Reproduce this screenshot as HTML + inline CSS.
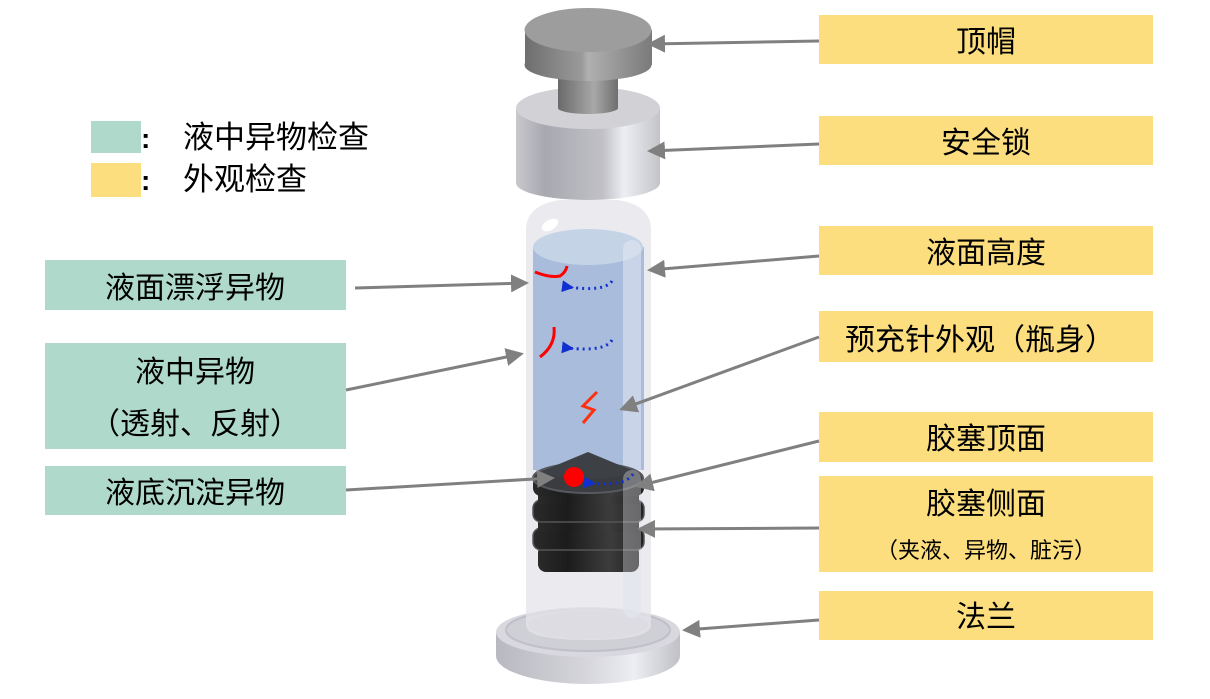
<!DOCTYPE html>
<html><head><meta charset="utf-8"><style>
html,body{margin:0;padding:0;background:#fff;}
svg{display:block;}
text{font-family:"Liberation Sans","Noto Sans CJK SC",sans-serif;fill:#000;}
</style></head><body>
<svg width="1210" height="699" viewBox="0 0 1210 699" xmlns="http://www.w3.org/2000/svg">
<defs>
<linearGradient id="gCap" x1="0" x2="1"><stop offset="0" stop-color="#6e6e6e"/><stop offset="0.45" stop-color="#9a9a9a"/><stop offset="0.5" stop-color="#b0b0b0"/><stop offset="1" stop-color="#7a7a7a"/></linearGradient>
<linearGradient id="gNeck" x1="0" x2="1"><stop offset="0" stop-color="#6a6a6a"/><stop offset="0.6" stop-color="#a8a8a8"/><stop offset="1" stop-color="#6e6e6e"/></linearGradient>
<linearGradient id="gLock" x1="0" x2="1"><stop offset="0" stop-color="#c8c8cc"/><stop offset="0.2" stop-color="#a8a8b0"/><stop offset="0.6" stop-color="#c0c0c6"/><stop offset="0.75" stop-color="#eceef4"/><stop offset="1" stop-color="#c4c4c8"/></linearGradient>
<linearGradient id="gStop" x1="0" x2="1"><stop offset="0" stop-color="#2a2a2a"/><stop offset="0.3" stop-color="#1c1c1c"/><stop offset="0.7" stop-color="#3c3c3c"/><stop offset="1" stop-color="#222"/></linearGradient>
<linearGradient id="gFl" x1="0" x2="1"><stop offset="0" stop-color="#b8b8c0"/><stop offset="0.5" stop-color="#d6d6dc"/><stop offset="0.75" stop-color="#eceef4"/><stop offset="1" stop-color="#c0c0c6"/></linearGradient>
<marker id="ah" markerWidth="6" markerHeight="6" refX="5" refY="3" orient="auto" markerUnits="strokeWidth"><path d="M0,0 L6,3 L0,6 z" fill="#808080"/></marker>
<marker id="bh" markerWidth="4" markerHeight="4" refX="2" refY="2" orient="auto" markerUnits="strokeWidth"><path d="M4,0 L0,2 L4,4 z" fill="#1030d0"/></marker>
</defs>

<!-- legend -->
<rect x="91" y="121" width="50" height="32" fill="#AFDACB"/>
<rect x="91" y="163" width="50" height="34" fill="#FCDE7E"/>
<text x="141" y="148" font-size="28" font-weight="bold">:</text>
<text x="141" y="190" font-size="28" font-weight="bold">:</text>
<text x="183" y="148" font-size="31">液中异物检查</text>
<text x="183" y="190" font-size="31">外观检查</text>

<!-- green boxes -->
<rect x="45" y="260" width="301" height="50" fill="#AFDACB"/>
<text x="195" y="298" font-size="30" text-anchor="middle">液面漂浮异物</text>
<rect x="45" y="343" width="301" height="106" fill="#AFDACB"/>
<text x="195" y="382" font-size="30" text-anchor="middle">液中异物</text>
<text x="195" y="434" font-size="30" text-anchor="middle">（透射、反射）</text>
<rect x="45" y="466" width="301" height="49" fill="#AFDACB"/>
<text x="195" y="503" font-size="30" text-anchor="middle">液底沉淀异物</text>

<!-- yellow boxes -->
<g fill="#FCDE7E">
<rect x="819" y="15" width="334" height="49"/>
<rect x="819" y="116" width="334" height="49"/>
<rect x="819" y="226" width="334" height="49"/>
<rect x="819" y="311" width="334" height="51"/>
<rect x="819" y="412" width="334" height="50"/>
<rect x="819" y="476" width="334" height="96"/>
<rect x="819" y="591" width="334" height="49"/>
</g>
<g font-size="30" text-anchor="middle">
<text x="986" y="52">顶帽</text>
<text x="986" y="153">安全锁</text>
<text x="986" y="263">液面高度</text>
<text x="980" y="350">预充针外观（瓶身）</text>
<text x="986" y="449">胶塞顶面</text>
<text x="986" y="514">胶塞侧面</text>
<text x="986" y="627">法兰</text>
</g>
<text x="986" y="558" font-size="22" text-anchor="middle">（夹液、异物、脏污）</text>

<!-- flange -->
<ellipse cx="588" cy="656" rx="92" ry="28" fill="url(#gFl)"/>
<rect x="496" y="632" width="184" height="24" fill="url(#gFl)"/>
<ellipse cx="588" cy="632" rx="92" ry="25" fill="#d8d8de"/>
<ellipse cx="588" cy="630" rx="82" ry="21" fill="#cfcfd6" stroke="#c0c0c8" stroke-width="2"/>
<ellipse cx="588" cy="625" rx="60" ry="14" fill="#c6c4d0"/>

<!-- barrel -->
<path d="M526,230 Q526,205 560,200 L618,200 Q651,205 651,230 L651,625 Q651,640 588,640 Q526,640 526,625 Z" fill="#e4e4ea" fill-opacity="0.75"/>
<ellipse cx="550" cy="225" rx="9" ry="5" fill="#fff" transform="rotate(-30 550 225)"/>
<!-- liquid -->
<path d="M533,247 L533,470 L644,470 L644,247 Z" fill="#a9bcdb"/>
<ellipse cx="588" cy="247" rx="55" ry="18" fill="#c4d4e6"/>
<rect x="623" y="240" width="18" height="378" rx="9" fill="#dfe4f0" fill-opacity="0.6"/>

<!-- stopper -->
<g>
<rect x="538" y="545" width="101" height="27" rx="8" fill="url(#gStop)"/>
<rect x="533" y="528" width="111" height="22" rx="8" fill="url(#gStop)" stroke="#555" stroke-width="1.5"/>
<rect x="538" y="518" width="101" height="14" fill="url(#gStop)"/>
<rect x="533" y="500" width="111" height="22" rx="8" fill="url(#gStop)" stroke="#555" stroke-width="1.5"/>
<rect x="538" y="490" width="101" height="14" fill="url(#gStop)"/>
<rect x="533" y="476" width="111" height="20" rx="8" fill="url(#gStop)"/>
<ellipse cx="588" cy="478" rx="55" ry="15" fill="#3a3c40" stroke="#55585e" stroke-width="2"/>
<path d="M540,472 L588,452 L636,472 Q588,486 540,472 Z" fill="#3d4045"/>
</g>
<rect x="623" y="470" width="18" height="148" rx="9" fill="#e8e8ee" fill-opacity="0.35"/>

<!-- debris -->
<path d="M535,272 Q550,278 560,276 Q566,272 567,266" stroke="#f00" stroke-width="3" fill="none"/>
<path d="M554,327 Q556,345 540,357" stroke="#f00" stroke-width="3" fill="none"/>
<path d="M597,392 L583,406 L594,410 L583,423" stroke="#ff3010" stroke-width="3" fill="none"/>
<circle cx="574" cy="477" r="10" fill="#f00"/>
<g stroke="#1030d0" stroke-width="3" stroke-dasharray="2,4" fill="none" marker-end="url(#bh)">
<path d="M612,281 Q605,292 568,287"/>
<path d="M612,340 Q605,352 568,348"/>
<path d="M633,474 Q625,487 590,483"/>
</g>

<!-- lock -->
<rect x="516" y="108" width="144" height="75" fill="url(#gLock)"/>
<ellipse cx="588" cy="183" rx="72" ry="17" fill="url(#gLock)"/>
<ellipse cx="588" cy="108" rx="72" ry="21" fill="#d2d2d6"/>
<!-- neck -->
<rect x="558" y="75" width="60" height="33" fill="url(#gNeck)"/>
<ellipse cx="588" cy="108" rx="30" ry="6" fill="url(#gNeck)"/>
<!-- cap -->
<rect x="525" y="30" width="127" height="35" fill="url(#gCap)"/>
<ellipse cx="588" cy="65" rx="63.5" ry="16" fill="url(#gCap)"/>
<ellipse cx="588" cy="30" rx="63.5" ry="22" fill="#9d9d9d"/>

<!-- arrows -->
<g stroke="#808080" stroke-width="3" fill="none" marker-end="url(#ah)">
<line x1="819" y1="41" x2="650" y2="44"/>
<line x1="819" y1="144" x2="650" y2="151"/>
<line x1="819" y1="256" x2="650" y2="270"/>
<line x1="819" y1="337" x2="622" y2="409"/>
<line x1="819" y1="441" x2="638" y2="486"/>
<line x1="819" y1="528" x2="640" y2="529"/>
<line x1="819" y1="620" x2="685" y2="630"/>
<line x1="355" y1="288" x2="526" y2="283"/>
<line x1="346" y1="390" x2="521" y2="354"/>
<line x1="346" y1="490" x2="552" y2="478"/>
</g>
</svg>
</body></html>
